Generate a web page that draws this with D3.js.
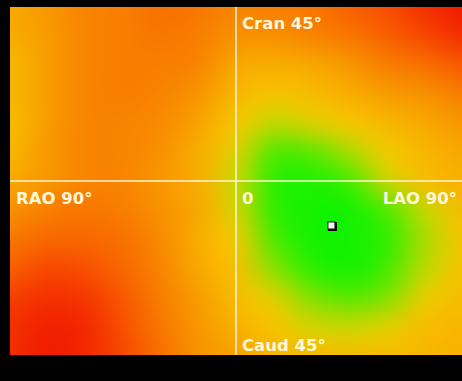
<!DOCTYPE html>
<html>
<head>
<meta charset="utf-8">
<script src="https://cdn.jsdelivr.net/npm/d3@7/dist/d3.min.js"></script>
<style>
  html, body { margin: 0; padding: 0; background: #000; }
  svg { display: block; }
</style>
</head>
<body>
<svg id="chart" width="462" height="381"></svg>
<script>
// angles of the grid columns (RAO negative, LAO positive) and rows (Cran positive, Caud negative)
const laoAngles = [-90, -75, -60, -45, -30, -15, 0, 15, 30, 45, 60, 75, 90];
const cranAngles = [45, 37.5, 30, 22.5, 15, 7.5, 0, -7.5, -15, -22.5, -30, -37.5, -45];

// relative foreshortening per view (0 = green, 1 = red)
const row45   = [0.58, 0.64, 0.70, 0.72, 0.76, 0.74, 0.70, 0.72, 0.74, 0.80, 0.85, 0.92, 0.98];
const row37   = [0.56, 0.62, 0.70, 0.72, 0.74, 0.72, 0.66, 0.66, 0.70, 0.74, 0.80, 0.86, 0.92];
const row30   = [0.52, 0.62, 0.70, 0.72, 0.72, 0.70, 0.58, 0.56, 0.58, 0.64, 0.72, 0.76, 0.82];
const row22   = [0.52, 0.62, 0.70, 0.72, 0.70, 0.65, 0.52, 0.47, 0.50, 0.56, 0.62, 0.66, 0.72];
const row15   = [0.50, 0.62, 0.70, 0.70, 0.68, 0.60, 0.46, 0.34, 0.40, 0.46, 0.52, 0.58, 0.64];
const row7    = [0.52, 0.64, 0.70, 0.70, 0.66, 0.56, 0.40, 0.13, 0.15, 0.30, 0.44, 0.52, 0.58];
const row0    = [0.58, 0.64, 0.70, 0.70, 0.64, 0.56, 0.36, 0.05, 0.02, 0.10, 0.36, 0.50, 0.55];
const rowM7   = [0.66, 0.72, 0.74, 0.72, 0.66, 0.58, 0.38, 0.06, 0.00, 0.00, 0.12, 0.35, 0.50];
const rowM15  = [0.74, 0.78, 0.78, 0.76, 0.68, 0.56, 0.44, 0.12, 0.00, 0.00, 0.06, 0.30, 0.47];
const rowM22  = [0.80, 0.86, 0.84, 0.78, 0.70, 0.58, 0.48, 0.24, 0.05, 0.00, 0.10, 0.33, 0.47];
const rowM30  = [0.88, 0.92, 0.90, 0.82, 0.72, 0.62, 0.50, 0.40, 0.22, 0.14, 0.22, 0.42, 0.50];
const rowM37  = [0.92, 0.96, 0.94, 0.84, 0.74, 0.64, 0.55, 0.47, 0.38, 0.35, 0.40, 0.50, 0.52];
const rowM45  = [0.92, 0.98, 0.94, 0.86, 0.76, 0.66, 0.60, 0.52, 0.50, 0.50, 0.50, 0.52, 0.55];
const rows = [row45, row37, row30, row22, row15, row7, row0, rowM7, rowM15, rowM22, rowM30, rowM37, rowM45];

// current view
const markerLao = 38;
const markerCran = -11.5;

const axisLabels = [
  { text: 'Cran 45°', lao: 0, cran: 45, anchor: 'start', dx: 6, dy: 22 },
  { text: 'RAO 90°', lao: -90, cran: 0, anchor: 'start', dx: 6, dy: 23 },
  { text: '0', lao: 0, cran: 0, anchor: 'start', dx: 6, dy: 23 },
  { text: 'LAO 90°', lao: 90, cran: 0, anchor: 'end', dx: -5, dy: 23 },
  { text: 'Caud 45°', lao: 0, cran: -45, anchor: 'start', dx: 6, dy: -4 },
];

const plot = { left: 10, right: 462, top: 7, bottom: 355 };

const x = d3.scaleLinear().domain([-90, 90]).range([plot.left, plot.right]);
const y = d3.scaleLinear().domain([45, -45]).range([plot.top, plot.bottom]);

const color = d3.scaleLinear()
  .domain([0, 0.2, 0.35, 0.45, 0.55, 0.65, 0.75, 0.85, 0.95, 1])
  .range(['#14f200', '#74e400', '#c4d800', '#f6c800', '#f8b000', '#f89400', '#f87400', '#f84c00', '#f22400', '#ee1400'])
  .clamp(true);

const svg = d3.select('#chart');

svg.append('rect')
  .attr('width', 462).attr('height', 381)
  .attr('fill', '#000');

// heatmap: grid drawn into a tiny canvas (padded with its edge values), scaled up smoothly
const nx = laoAngles.length, ny = cranAngles.length;
const small = document.createElement('canvas');
small.width = nx + 2;
small.height = ny + 2;
const sctx = small.getContext('2d');
for (let j = -1; j <= ny; j++) {
  for (let i = -1; i <= nx; i++) {
    const jj = Math.max(0, Math.min(ny - 1, j));
    const ii = Math.max(0, Math.min(nx - 1, i));
    sctx.fillStyle = color(rows[jj][ii]);
    sctx.fillRect(i + 1, j + 1, 1, 1);
  }
}

const pad = 30;
const cw = x(laoAngles[1]) - x(laoAngles[0]);
const ch = y(cranAngles[1]) - y(cranAngles[0]);
const big = document.createElement('canvas');
big.width = plot.right - plot.left + 2 * pad;
big.height = plot.bottom - plot.top + 2 * pad;
const bctx = big.getContext('2d');
bctx.imageSmoothingEnabled = true;
bctx.imageSmoothingQuality = 'high';
bctx.filter = 'blur(4px)';
bctx.drawImage(small,
  x(laoAngles[0]) - plot.left + pad - 1.5 * cw,
  y(cranAngles[0]) - plot.top + pad - 1.5 * ch,
  (nx + 2) * cw, (ny + 2) * ch);

svg.append('clipPath').attr('id', 'plot-clip')
  .append('rect')
  .attr('x', plot.left).attr('y', plot.top)
  .attr('width', plot.right - plot.left).attr('height', plot.bottom - plot.top);

svg.append('image')
  .attr('clip-path', 'url(#plot-clip)')
  .attr('x', plot.left - pad).attr('y', plot.top - pad)
  .attr('width', big.width).attr('height', big.height)
  .attr('preserveAspectRatio', 'none')
  .attr('href', big.toDataURL());

// crosshair through 0/0
const lineColor = '#fff4d4';
svg.append('line')
  .attr('x1', x(0)).attr('x2', x(0))
  .attr('y1', y(45)).attr('y2', y(-45))
  .attr('stroke', lineColor).attr('stroke-width', 1.5);
svg.append('line')
  .attr('x1', x(-90)).attr('x2', x(90))
  .attr('y1', y(0)).attr('y2', y(0))
  .attr('stroke', lineColor).attr('stroke-width', 1.5);

svg.selectAll('text.label')
  .data(axisLabels)
  .enter()
  .append('text')
  .attr('class', 'label')
  .attr('x', d => x(d.lao) + d.dx)
  .attr('y', d => y(d.cran) + d.dy)
  .attr('text-anchor', d => d.anchor)
  .attr('font-family', 'DejaVu Sans')
  .attr('font-weight', 'bold')
  .attr('font-size', '16.5px')
  .attr('fill', '#fff6dc')
  .text(d => d.text);

// current view marker
const mx = x(markerLao), my = y(markerCran);
svg.append('rect')
  .attr('x', mx - 3.5).attr('y', my - 3.5)
  .attr('width', 9).attr('height', 9)
  .attr('fill', '#000');
svg.append('rect')
  .attr('x', mx - 3.5).attr('y', my - 3.5)
  .attr('width', 7).attr('height', 7)
  .attr('fill', '#f4f4f4')
  .attr('stroke', '#222').attr('stroke-width', 1);
</script>
</body>
</html>
